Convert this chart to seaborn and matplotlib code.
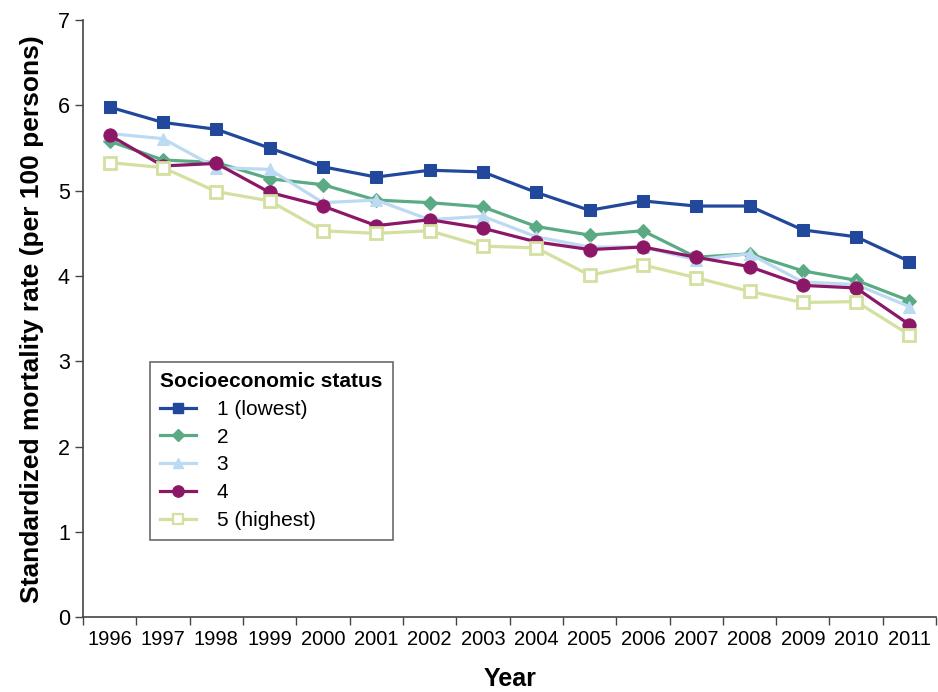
import numpy as np
import pandas as pd
import matplotlib
matplotlib.use("Agg")
import matplotlib.pyplot as plt
import seaborn as sns

years = [1996, 1997, 1998, 1999, 2000, 2001, 2002, 2003, 2004, 2005, 2006, 2007, 2008, 2009, 2010, 2011]
ses_labels = ["1 (lowest)", "2", "3", "4", "5 (highest)"]
ses1 = [5.98, 5.80, 5.72, 5.50, 5.28, 5.16, 5.24, 5.22, 4.98, 4.77, 4.88, 4.82, 4.82, 4.54, 4.46, 4.17]
ses2 = [5.58, 5.36, 5.33, 5.14, 5.07, 4.89, 4.86, 4.81, 4.58, 4.48, 4.53, 4.22, 4.26, 4.06, 3.95, 3.71]
ses3 = [5.67, 5.61, 5.27, 5.25, 4.86, 4.89, 4.66, 4.70, 4.46, 4.34, 4.34, 4.19, 4.26, 3.93, 3.90, 3.64]
ses4 = [5.65, 5.29, 5.32, 4.98, 4.82, 4.59, 4.66, 4.56, 4.40, 4.31, 4.34, 4.22, 4.11, 3.89, 3.86, 3.43]
ses5 = [5.33, 5.27, 4.99, 4.88, 4.53, 4.50, 4.53, 4.35, 4.33, 4.01, 4.13, 3.98, 3.82, 3.69, 3.70, 3.31]

colors = ["#22489c", "#5aab84", "#bcdaf2", "#8c1766", "#d3e0a0"]
markers = ["s", "D", "^", "o", "s"]
msizes = [8.5, 7, 8.5, 9.5, 8.5]

plt.rcParams['font.family'] = ['Liberation Sans', 'DejaVu Sans']

rows = []
for lab, vals in zip(ses_labels, [ses1, ses2, ses3, ses4, ses5]):
    for i, v in enumerate(vals):
        rows.append({"idx": i, "rate": v, "ses": lab})
df = pd.DataFrame(rows)

fig = plt.figure(figsize=(9.38, 6.92), dpi=100)
ax = fig.add_axes([0.0885, 0.108, 0.9095, 0.863])

sns.lineplot(data=df, x="idx", y="rate", hue="ses", hue_order=ses_labels,
             palette=colors, legend=False, ax=ax, linewidth=2.3)

handles = []
for line, c, m, ms, lab in zip(ax.lines, colors, markers, msizes, ses_labels):
    line.set_marker(m)
    line.set_markersize(ms)
    line.set_markeredgecolor(c)
    if lab.startswith("5"):
        line.set_markerfacecolor("white")
        line.set_markeredgewidth(2.0)
    else:
        line.set_markerfacecolor(c)
    h = plt.Line2D([], [], color=c, marker=m, markersize=ms * 0.85, linewidth=2.3,
                   markeredgecolor=c,
                   markerfacecolor=("white" if lab.startswith("5") else c),
                   markeredgewidth=(1.6 if lab.startswith("5") else 1.0))
    handles.append(h)

ax.set_xlim(-0.5, 15.5)
ax.set_ylim(0, 7)
ax.set_xticks(np.arange(-0.5, 16, 1))
ax.set_xticklabels([])
ax.set_xticks(np.arange(16), minor=True)
ax.set_xticklabels([str(y) for y in years], minor=True, fontsize=14.5)
ax.tick_params(axis="x", which="minor", length=0, pad=9)
ax.tick_params(axis="x", which="major", length=6, width=1, color="#444444")
ax.set_yticks(range(0, 8))
ax.tick_params(axis="y", length=6, width=1, color="#444444", labelsize=15.5)

for s in ["top", "right"]:
    ax.spines[s].set_visible(False)
for s in ["left", "bottom"]:
    ax.spines[s].set_color("#444444")
    ax.spines[s].set_linewidth(1.2)

ax.set_xlabel("Year", fontsize=18, fontweight="bold", labelpad=13)
ax.set_ylabel("Standardized mortality rate (per 100 persons)", fontsize=19, fontweight="bold", labelpad=10)

leg = ax.legend(handles=handles, labels=ses_labels, title="Socioeconomic status",
                loc="lower left", bbox_to_anchor=(0.0785, 0.129), borderaxespad=0,
                fontsize=15, title_fontproperties={"weight": "bold", "size": 15},
                frameon=True, fancybox=False, edgecolor="#444444",
                handlelength=1.7, handletextpad=1.0, labelspacing=0.42,
                borderpad=0.5, alignment="left")
leg.get_frame().set_linewidth(1.2)

fig.savefig("out.png", dpi=100)
